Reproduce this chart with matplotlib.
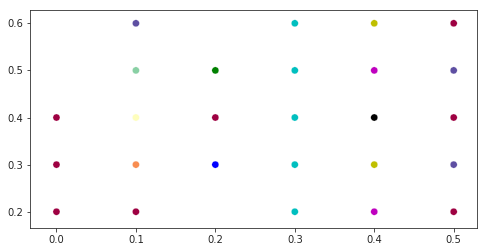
import matplotlib
matplotlib.use("Agg")
import matplotlib.pyplot as plt

# point grid, column by column
x_vals = [0.0, 0.0, 0.0,
          0.1, 0.1, 0.1, 0.1, 0.1,
          0.2, 0.2, 0.2,
          0.3, 0.3, 0.3, 0.3, 0.3,
          0.4, 0.4, 0.4, 0.4, 0.4,
          0.5, 0.5, 0.5, 0.5, 0.5]
y_vals = [0.2, 0.3, 0.4,
          0.2, 0.3, 0.4, 0.5, 0.6,
          0.3, 0.4, 0.5,
          0.2, 0.3, 0.4, 0.5, 0.6,
          0.2, 0.3, 0.4, 0.5, 0.6,
          0.2, 0.3, 0.4, 0.5, 0.6]
point_colors = ["#9e0142", "#9e0142", "#9e0142",
                "#9e0142", "#f88d51", "#fefebd", "#89d0a4", "#5e4fa2",
                "b", "#9e0142", "g",
                "c", "c", "c", "c", "c",
                "m", "y", "k", "m", "y",
                "#9e0142", "#5e4fa2", "#9e0142", "#5e4fa2", "#9e0142"]

fig = plt.figure(figsize=(487 / 72, 252 / 72), dpi=72)
ax = fig.add_axes([0.0626, 0.0952, 0.9168, 0.8639])
ax.scatter(x_vals, y_vals, c=point_colors, s=50, edgecolors="white", linewidths=0.3)

ax.set_xlim(-0.0327, 0.5293)
ax.set_ylim(0.1654, 0.6276)
ax.set_xticks([0.0, 0.1, 0.2, 0.3, 0.4, 0.5])
ax.set_yticks([0.2, 0.3, 0.4, 0.5, 0.6])
ax.tick_params(labelsize=10, colors="#262626")
for side in ax.spines.values():
    side.set_color("#262626")

fig.savefig("out.png", dpi=72)
